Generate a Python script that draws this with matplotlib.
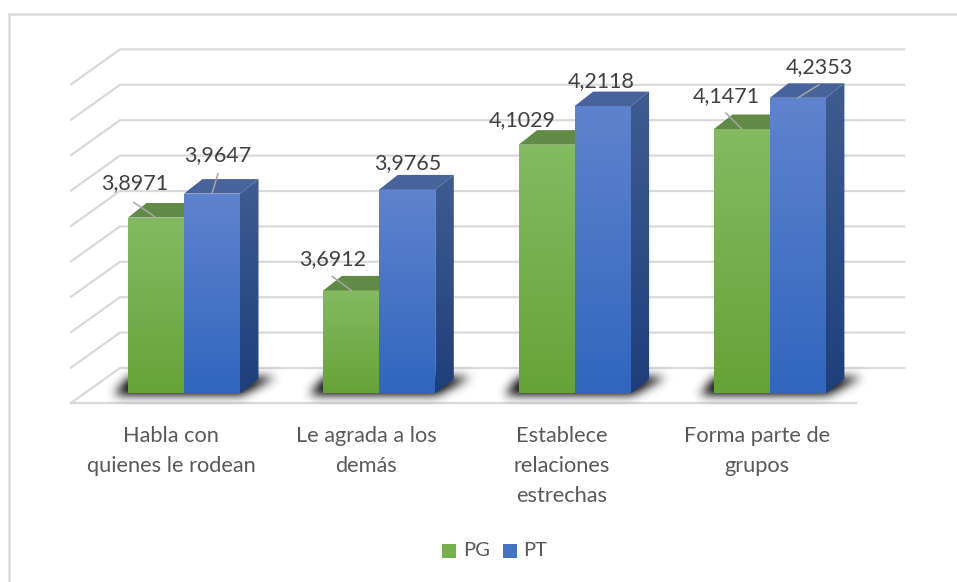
import numpy as np
import matplotlib
matplotlib.use("Agg")
import matplotlib.pyplot as plt
from matplotlib.patches import Polygon, Rectangle

categories = ["Habla con\nquienes le rodean", "Le agrada a los\ndemás", "Establece\nrelaciones\nestrechas", "Forma parte de\ngrupos"]
pg_values = [3.8971, 3.6912, 4.1029, 4.1471]
pt_values = [3.9647, 3.9765, 4.2118, 4.2353]
pg_labels = ["3,8971", "3,6912", "4,1029", "4,1471"]
pt_labels = ["3,9647", "3,9765", "4,2118", "4,2353"]
y_ticks = [3.4, 3.5, 3.6, 3.7, 3.8, 3.9, 4.0, 4.1, 4.2, 4.3]

W, H = 957, 582
PX_PER_UNIT = 354.0   # pixels per value unit
BASE_PX = 393.5       # pixel row of the bar base
GROUP_STEP = 195.3    # pixels between groups
GROUP0_PX = 184.0     # pixel col of first group centre
BAR_W = 56.0 / GROUP_STEP
BAR_DX = 18.5 / GROUP_STEP
BAR_DY = 14.5 / PX_PER_UNIT


def px_x(d):
    return (d - GROUP0_PX) / GROUP_STEP


def px_y(r):
    return 3.4 + (BASE_PX - r) / PX_PER_UNIT


def gradient_poly(ax, pts, top, bottom):
    # vertical gradient clipped to a polygon
    xs = [p[0] for p in pts]
    ys = [p[1] for p in pts]
    c = np.linspace(0, 1, 64)[:, None, None]
    img = (1 - c) * np.array(matplotlib.colors.to_rgb(top)) + c * np.array(matplotlib.colors.to_rgb(bottom))
    im = ax.imshow(img, extent=(min(xs), max(xs), min(ys), max(ys)), origin="upper",
                   aspect="auto", interpolation="bilinear", zorder=4)
    im.set_clip_path(Polygon(pts, transform=ax.transData))


def draw_shadow(ax, i):
    # blurred shadow on the floor behind each group
    left = GROUP0_PX + i * GROUP_STEP - 56
    right = GROUP0_PX + i * GROUP_STEP + 56
    yy, xx = np.mgrid[0:H, 0:W]
    t = (394 - yy) / 17.0
    inside = (t >= 0) & (t <= 1) & (xx >= left - 14 + t * 14) & (xx <= right + 2 + t * 32)
    mask = inside.astype(float)
    k = np.exp(-np.arange(-15, 16) ** 2 / (2 * 5.0 ** 2))
    k /= k.sum()
    mask = np.apply_along_axis(np.convolve, 1, mask[340:420, :], k, mode="same")
    mask = np.apply_along_axis(np.convolve, 0, mask, k, mode="same")
    full = np.zeros((H, W))
    full[340:420, :] = mask
    rgba = np.zeros((H, W, 4))
    rgba[..., 0:3] = 0.2
    rgba[..., 3] = np.clip(full * 1.3, 0, 1)
    ax.imshow(rgba, extent=(px_x(0), px_x(W), px_y(H), px_y(0)), origin="upper",
              aspect="auto", interpolation="bilinear", zorder=3)


fig = plt.figure(figsize=(W / 100, H / 100), dpi=100)
ax = fig.add_axes([0, 0, 1, 1])
plt.rcParams["font.family"] = ["Lato", "DejaVu Sans"]
ax.axis("off")

# walls
floor_dx = 49 / GROUP_STEP
floor_dy = 35 / PX_PER_UNIT
front_x = px_x(71)
right_x = px_x(904)
floor_y = px_y(403)
for v in y_ticks:
    y = floor_y + (v - 3.4)
    ax.plot([front_x, front_x + floor_dx, right_x], [y, y + floor_dy, y + floor_dy],
            color="#D9D9D9", lw=1.6, zorder=1, solid_joinstyle="miter")
ax.plot([front_x, px_x(856)], [floor_y, floor_y], color="#D9D9D9", lw=1.6, zorder=1)

for i in range(4):
    draw_shadow(ax, i)

for i in range(4):
    x0 = i - BAR_W
    x1 = i
    x2 = i + BAR_W
    g = pg_values[i]
    p = pt_values[i]
    # green bar
    gradient_poly(ax, [(x0, 3.4), (x1, 3.4), (x1, g), (x0, g)], "#84BA62", "#66A337")
    ax.add_patch(Polygon([(x0, g), (x1, g), (x1 + BAR_DX, g + BAR_DY), (x0 + BAR_DX, g + BAR_DY)],
                         facecolor="#608A46", edgecolor="none", zorder=4))
    # blue bar
    gradient_poly(ax, [(x1, 3.4), (x2, 3.4), (x2, p), (x1, p)], "#5F83CE", "#3166BE")
    ax.add_patch(Polygon([(x1, p), (x2, p), (x2 + BAR_DX, p + BAR_DY), (x1 + BAR_DX, p + BAR_DY)],
                         facecolor="#48639B", edgecolor="none", zorder=5))
    gradient_poly(ax, [(x2, 3.4), (x2 + BAR_DX, 3.4 + BAR_DY), (x2 + BAR_DX, p + BAR_DY), (x2, p)],
                  "#3F5C91", "#1F3F7C")

ax.set_xlim(px_x(0), px_x(W))
ax.set_ylim(px_y(H), px_y(0))

# data labels: pixel offsets from the bar top centre, leaders only where the picture has them
pg_offsets = [(-21, 34), (-19, 31), (-24, 25), (-16, 33)]
pt_offsets = [(6, 39), (0, 26), (-1, 25), (21, 31)]
pg_leaders = [(-22, 15), (-19, 14), None, (-16, 16)]
pt_leaders = [(6, 20), None, None, (21, 13)]
for i in range(4):
    for val, lab, off, cx, leader in [
        (pg_values[i], pg_labels[i], pg_offsets[i], i - BAR_W / 2, pg_leaders[i]),
        (pt_values[i], pt_labels[i], pt_offsets[i], i + BAR_W / 2, pt_leaders[i]),
    ]:
        px = GROUP0_PX + cx * GROUP_STEP
        py = BASE_PX - (val - 3.4) * PX_PER_UNIT
        if leader:
            ax.plot([px_x(px), px_x(px + leader[0])], [val, px_y(py - leader[1])],
                    color="#A6A6A6", lw=1.1, zorder=6)
        ax.text(px_x(px + off[0]), px_y(py - off[1]), lab, ha="center", va="center",
                fontsize=15.5, color="#404040", zorder=7)

for i, name in enumerate(categories):
    ax.text(i - 13 / GROUP_STEP, px_y(426.5), name, ha="center", va="top", fontsize=15.7,
            color="#595959", linespacing=1.62, zorder=7)

# legend
ax.add_patch(Rectangle((px_x(442), px_y(558)), 14 / GROUP_STEP, 14 / PX_PER_UNIT, facecolor="#74B04B", edgecolor="none", zorder=6))
ax.add_patch(Rectangle((px_x(503), px_y(558)), 14 / GROUP_STEP, 14 / PX_PER_UNIT, facecolor="#4472C4", edgecolor="none", zorder=6))
ax.text(px_x(463), px_y(551), "PG", ha="left", va="center", fontsize=14.5, color="#595959")
ax.text(px_x(523), px_y(551), "PT", ha="left", va="center", fontsize=14.5, color="#595959")

# chart frame
ax.plot([px_x(9), px_x(9), px_x(957)], [px_y(582), px_y(14), px_y(14)], color="#DADADA", lw=1.8, zorder=2, solid_joinstyle="miter")

fig.savefig("out.png", dpi=100)
